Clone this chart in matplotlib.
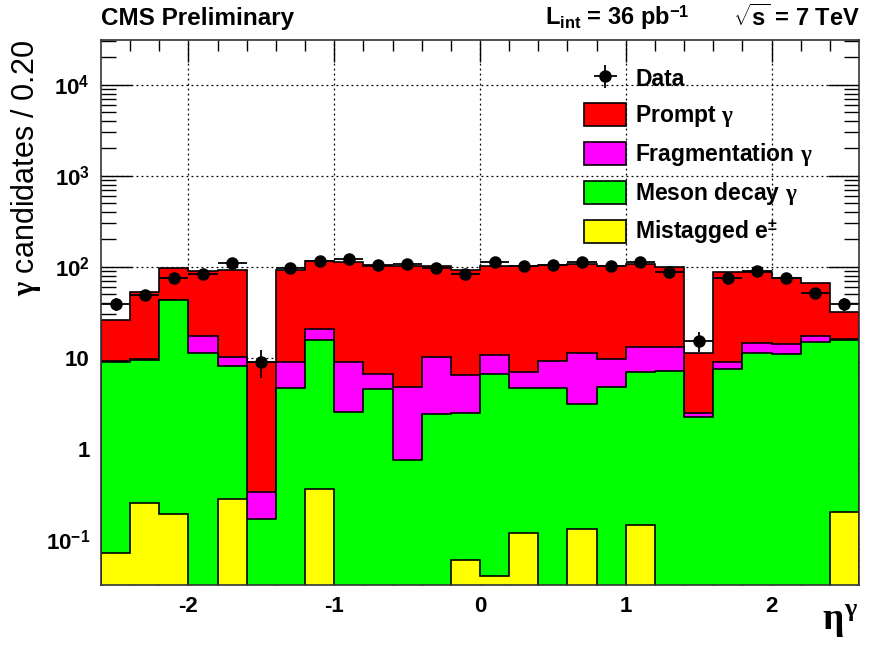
import numpy as np
import matplotlib
matplotlib.use("Agg")
import matplotlib.pyplot as plt
from matplotlib.patches import Patch
from matplotlib.ticker import FixedLocator, LogLocator, NullFormatter

plt.rcParams["font.family"] = ["Liberation Sans", "DejaVu Sans"]
plt.rcParams["font.weight"] = "bold"
plt.rcParams["mathtext.fontset"] = "custom"
plt.rcParams["mathtext.rm"] = "Liberation Sans:bold"
plt.rcParams["mathtext.it"] = "Liberation Serif"
plt.rcParams["mathtext.bf"] = "Liberation Sans:bold"

# eta bins, 0.2 wide
edges = np.linspace(-2.6, 2.6, 27)

# cumulative stack heights (bottom layer first)
mistag_top = [0.072, 0.257, 0.193, 0, 0.28, 0, 0, 0.366, 0, 0, 0, 0, 0.061,
              0.040, 0.12, 0, 0.133, 0, 0.146, 0, 0, 0, 0, 0, 0, 0.205]
meson_top = [9.1, 9.4, 43.4, 11.4, 8.2, 0.169, 4.7, 15.8, 2.55, 4.5, 0.757, 2.42, 2.47,
             6.6, 4.7, 4.7, 3.12, 4.76, 6.96, 7.2, 2.26, 7.5, 11.4, 11.1, 15.1, 15.8]
frag_top = [9.3, 9.8, 43.4, 17.6, 10.2, 0.334, 9.0, 20.7, 9.0, 6.67, 4.76, 10.2, 6.5,
            10.8, 7.07, 9.34, 11.4, 9.7, 13.1, 13.3, 2.47, 9.0, 14.5, 14.1, 17.6, 16.0]
prompt_top = [26.2, 53.5, 98, 91, 92.7, 9.1, 92.7, 116, 112, 102.6, 101, 101, 92.7,
              101, 102.6, 104, 108, 101, 106.6, 100, 11.4, 87, 87, 76, 67, 31.5]
data = [38.9, 49.2, 75, 83, 110, 9.1, 98, 116, 122, 106, 108, 98, 84.4,
        112, 101, 105, 113, 102, 113, 87, 15.4, 76, 89, 75, 52, 38.9]

layers = [
    ("Prompt $\\gamma$", prompt_top, "#ff0000"),
    ("Fragmentation $\\gamma$", frag_top, "#ff00ff"),
    ("Meson decay $\\gamma$", meson_top, "#00ff00"),
    ("Mistagged e$^{\\pm}$", mistag_top, "#ffff00"),
]

YMIN, YMAX = 0.032, 3.1e4
FLOOR = 1e-3

fig = plt.figure(figsize=(8.75, 6.45), dpi=100)
ax = fig.add_axes([0.1154, 0.093, 0.8663, 0.845])

handles = []
for label, top, color in layers:
    vals = np.asarray(top, dtype=float)
    vals = np.where(vals > 0, vals, FLOOR)
    ax.stairs(vals, edges, baseline=FLOOR, fill=True, facecolor=color,
              edgecolor="black", linewidth=1.2, zorder=2)
    handles.append(Patch(facecolor=color, edgecolor="black", linewidth=1.2, label=label))

centers = 0.5 * (edges[:-1] + edges[1:])
d = np.asarray(data)
eb = ax.errorbar(centers, d, yerr=np.sqrt(d), xerr=0.1, fmt="o", color="black",
                 ms=8, elinewidth=1.3, capsize=0, zorder=4, label="Data")

ax.set_yscale("log")
ax.set_xlim(edges[0], edges[-1])
ax.set_ylim(YMIN, YMAX)

ax.xaxis.set_major_locator(FixedLocator([-2, -1, 0, 1, 2]))
ax.xaxis.set_minor_locator(FixedLocator(np.round(np.arange(-2.4, 2.6, 0.2), 1)))
ax.yaxis.set_major_locator(LogLocator(base=10, numticks=20))
ax.yaxis.set_minor_locator(LogLocator(base=10, subs=np.arange(2, 10), numticks=20))
ax.yaxis.set_minor_formatter(NullFormatter())
ax.set_yticks([1e-1, 1, 10, 1e2, 1e3, 1e4])
ax.set_yticklabels(["10$^{-1}$", "1", "10", "10$^{2}$", "10$^{3}$", "10$^{4}$"])
ax.set_xticklabels(["-2", "-1", "0", "1", "2"])

ax.tick_params(axis="both", which="both", direction="in", top=True, right=True,
               labelsize=16, width=1.0, pad=8)
ax.tick_params(axis="x", which="major", length=16)
ax.tick_params(axis="x", which="minor", length=8)
ax.tick_params(axis="y", which="major", length=22)
ax.tick_params(axis="y", which="minor", length=11)

ax.grid(True, which="major", color="black", linestyle=(0, (1.5, 2.5)), linewidth=0.9, zorder=0)
ax.set_axisbelow(True)
for s in ax.spines.values():
    s.set_linewidth(1.2)
    s.set_color("#333333")
    s.set_zorder(5)

ax.set_ylabel("$\\gamma$ candidates / 0.20", fontsize=22, loc="top", labelpad=2)
ax.set_xlabel("$\\eta^{\\gamma}$", fontsize=27, ha="right")
ax.xaxis.set_label_coords(0.999, -0.032)

fig.text(0.1154, 0.972, "CMS Preliminary", fontsize=17.5, ha="left", va="center")
fig.text(0.623, 0.972, "L$_{\\mathrm{int}}$ = 36 pb$^{-1}$", fontsize=17, ha="left", va="center")
fig.text(0.983, 0.972, "$\\sqrt{\\mathrm{s}}$ = 7 TeV", fontsize=17, ha="right", va="center")

ax.legend(handles=[eb] + handles, loc="upper left", bbox_to_anchor=(0.625, 0.968),
          frameon=False, fontsize=16.5, handlelength=1.85, handleheight=1.2,
          labelspacing=0.52, handletextpad=0.4, borderaxespad=0)

fig.savefig("out.png", dpi=100)
